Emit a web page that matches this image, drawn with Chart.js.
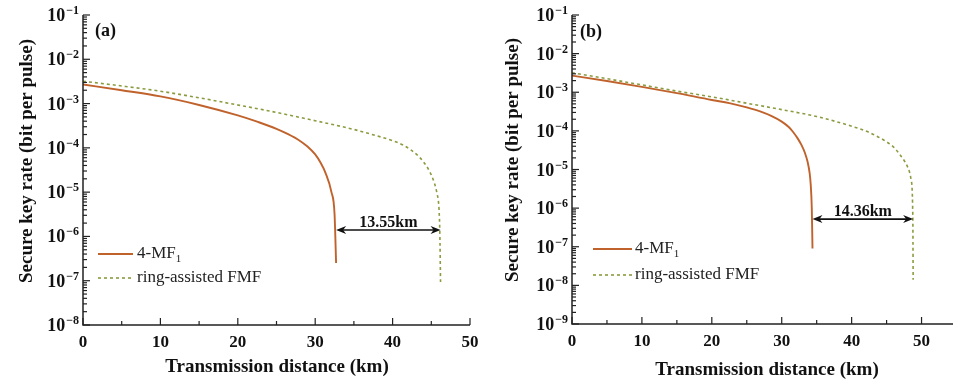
<!DOCTYPE html>
<html>
<head>
<meta charset="utf-8">
<script src="https://cdn.jsdelivr.net/npm/chart.js@4.4.1/dist/chart.umd.min.js"></script>
<style>
  body { margin: 0; background: #fff; width: 953px; height: 387px; overflow: hidden; position: relative; }
  #chartA { position: absolute; left: 0; top: 0; }
  #chartB { position: absolute; left: 480px; top: 0; }
</style>
</head>
<body>
<canvas id="chartA" width="480" height="387"></canvas>
<canvas id="chartB" width="473" height="387"></canvas>
<script>
// panel (a)
const distMfA = [0, 5, 10, 15, 20, 22.5, 25, 26.5, 28, 29, 30, 30.7, 31.3, 32.1, 32.5, 32.7];
const rateMfA = [2.7e-3, 2.0e-3, 1.45e-3, 9.3e-4, 5.4e-4, 3.9e-4, 2.7e-4, 2.04e-4, 1.45e-4, 1.07e-4, 7.1e-5, 4.6e-5, 2.8e-5, 1.0e-5, 3.2e-6, 2.5e-7];
const distRingA = [0, 5, 10, 15, 20, 25, 30, 35, 38, 40, 41.5, 43.1, 44, 44.8, 45.3, 45.7, 46.0, 46.1, 46.2];
const rateRingA = [3.2e-3, 2.5e-3, 1.9e-3, 1.35e-3, 9.3e-4, 6.3e-4, 4.1e-4, 2.6e-4, 1.86e-4, 1.45e-4, 1.12e-4, 7.1e-5, 4.8e-5, 2.9e-5, 1.8e-5, 1.0e-5, 4e-6, 1.26e-6, 8e-8];
const gapA = [32.7, 46.2];
const gapRateA = 1.4e-6;
const gapTextA = '13.55km';

// panel (b)
const distMfB = [0, 5, 10, 15, 20, 22.5, 25, 27, 28.5, 30, 31, 31.6, 32.3, 32.8, 33.3, 33.7, 34.0, 34.15, 34.3, 34.35, 34.4];
const rateMfB = [2.7e-3, 1.95e-3, 1.38e-3, 9.5e-4, 6.3e-4, 5.25e-4, 4.07e-4, 3.16e-4, 2.45e-4, 1.74e-4, 1.26e-4, 9.5e-5, 6.3e-5, 4.4e-5, 2.75e-5, 1.58e-5, 7.9e-6, 4e-6, 1e-6, 3.2e-7, 9e-8];
const distRingB = [0, 5, 10, 15, 20, 25, 30, 35, 40, 42.5, 45, 46, 47, 48, 48.5, 48.75, 48.8];
const rateRingB = [3.2e-3, 2.24e-3, 1.55e-3, 1.07e-3, 7.6e-4, 5.2e-4, 3.55e-4, 2.35e-4, 1.32e-4, 9.1e-5, 5.2e-5, 3.8e-5, 2.3e-5, 1.17e-5, 5.5e-6, 6.3e-7, 1.4e-8];
const gapB = [34.4, 48.8];
const gapRateB = 5.2e-7;
const gapTextB = '14.36km';

const seriesNames = ['4-MF', 'ring-assisted FMF'];
const xTicks = [0, 10, 20, 30, 40, 50];

const serif = '"Liberation Serif", "Times New Roman", serif';
const orange = '#c0622c';
const green = '#8a9c40';

function pts(xs, ys) {
  return xs.map((v, i) => ({ x: v, y: ys[i] }));
}

// axes, tick labels with superscripts, legend, arrow
const frame = {
  id: 'frame',
  afterDatasetsDraw(chart, args, o) {
    const { ctx, chartArea: a, scales: { x, y } } = chart;
    ctx.save();
    ctx.strokeStyle = '#222';
    ctx.fillStyle = '#111';
    ctx.lineWidth = 1.5;
    ctx.beginPath();
    ctx.moveTo(a.left, a.top);
    ctx.lineTo(a.left, a.bottom);
    ctx.lineTo(a.right, a.bottom);
    ctx.stroke();

    // y ticks (inside)
    ctx.lineWidth = 1.2;
    for (let e = o.minExp; e <= o.maxExp; e++) {
      const py = y.getPixelForValue(Math.pow(10, e));
      ctx.beginPath();
      ctx.moveTo(a.left, py);
      ctx.lineTo(a.left + 7, py);
      ctx.stroke();
      if (e < o.maxExp) {
        for (let k = 2; k <= 9; k++) {
          const pm = y.getPixelForValue(k * Math.pow(10, e));
          ctx.beginPath();
          ctx.moveTo(a.left, pm);
          ctx.lineTo(a.left + 4, pm);
          ctx.stroke();
        }
      }
      // label 10^e
      ctx.font = 'bold 18px ' + serif;
      const w10 = ctx.measureText('10').width;
      ctx.font = 'bold 12px ' + serif;
      const sup = '\u2212' + Math.abs(e);
      const ws = ctx.measureText(sup).width;
      const lx = a.left - 5 - w10 - ws;
      ctx.textAlign = 'left';
      ctx.textBaseline = 'alphabetic';
      ctx.font = 'bold 18px ' + serif;
      ctx.fillText('10', lx, py + 6);
      ctx.font = 'bold 12px ' + serif;
      ctx.fillText(sup, lx + w10 + 1, py - 1);
    }

    // x ticks (inside)
    for (let v = 0; v <= x.max; v += 5) {
      const px = x.getPixelForValue(v);
      const len = v % 10 === 0 ? 7 : 4;
      ctx.beginPath();
      ctx.moveTo(px, a.bottom);
      ctx.lineTo(px, a.bottom - len);
      ctx.stroke();
    }
    ctx.font = 'bold 17px ' + serif;
    ctx.textAlign = 'center';
    ctx.textBaseline = 'middle';
    xTicks.forEach(v => {
      if (v <= x.max) ctx.fillText(String(v), x.getPixelForValue(v), a.bottom + 18);
    });

    // axis titles
    ctx.font = 'bold 19px ' + serif;
    ctx.fillText('Transmission distance (km)', o.xTitle[0], o.xTitle[1]);
    ctx.save();
    ctx.translate(o.yTitle[0], o.yTitle[1]);
    ctx.rotate(-Math.PI / 2);
    ctx.fillText('Secure key rate (bit per pulse)', 0, 0);
    ctx.restore();

    // panel label
    ctx.font = 'bold 18px ' + serif;
    ctx.textAlign = 'left';
    ctx.fillText(o.panel, o.panelPos[0], o.panelPos[1]);

    // legend
    const L = o.legend;
    ctx.lineWidth = 1.8;
    ctx.strokeStyle = orange;
    ctx.beginPath();
    ctx.moveTo(L.x0, L.y1);
    ctx.lineTo(L.x1, L.y1);
    ctx.stroke();
    ctx.strokeStyle = green;
    ctx.lineWidth = 1.6;
    ctx.setLineDash([3, 3]);
    ctx.beginPath();
    ctx.moveTo(L.x0, L.y2);
    ctx.lineTo(L.x1, L.y2);
    ctx.stroke();
    ctx.setLineDash([]);
    ctx.fillStyle = '#222';
    ctx.font = '17px ' + serif;
    ctx.textBaseline = 'middle';
    ctx.fillText(seriesNames[0], L.tx, L.y1);
    const wm = ctx.measureText(seriesNames[0]).width;
    ctx.font = '11px ' + serif;
    ctx.fillText('1', L.tx + wm, L.y1 + 5);
    ctx.font = '17px ' + serif;
    ctx.fillText(seriesNames[1], L.tx, L.y2);

    // gap arrow
    const g = o.gap;
    const ax1 = x.getPixelForValue(g.range[0]);
    const ax2 = x.getPixelForValue(g.range[1]);
    const ay = y.getPixelForValue(g.rate);
    ctx.strokeStyle = '#111';
    ctx.fillStyle = '#111';
    ctx.lineWidth = 1.6;
    ctx.beginPath();
    ctx.moveTo(ax1 + 4, ay);
    ctx.lineTo(ax2 - 4, ay);
    ctx.stroke();
    [[ax1, 1], [ax2, -1]].forEach(([px, d]) => {
      ctx.beginPath();
      ctx.moveTo(px, ay);
      ctx.lineTo(px + d * 10, ay - 4);
      ctx.lineTo(px + d * 7, ay);
      ctx.lineTo(px + d * 10, ay + 4);
      ctx.closePath();
      ctx.fill();
    });
    ctx.font = 'bold 16px ' + serif;
    ctx.textAlign = 'center';
    ctx.textBaseline = 'alphabetic';
    ctx.fillText(g.text, (ax1 + ax2) / 2, ay - 3);
    ctx.restore();
  }
};

function makeChart(id, mf, ring, opt) {
  return new Chart(document.getElementById(id), {
    type: 'line',
    data: {
      datasets: [{
        label: seriesNames[0],
        data: mf,
        borderColor: orange,
        borderWidth: 1.9,
        pointRadius: 0,
        cubicInterpolationMode: 'monotone'
      }, {
        label: seriesNames[1],
        data: ring,
        borderColor: green,
        borderWidth: 1.6,
        borderDash: [3, 3],
        pointRadius: 0,
        cubicInterpolationMode: 'monotone'
      }]
    },
    options: {
      responsive: false,
      animation: false,
      layout: { padding: opt.padding },
      plugins: {
        legend: { display: false },
        tooltip: { enabled: false },
        frame: opt.frame
      },
      scales: {
        x: { type: 'linear', min: 0, max: opt.xMax, display: false },
        y: { type: 'logarithmic', min: Math.pow(10, opt.frame.minExp), max: Math.pow(10, opt.frame.maxExp), display: false }
      }
    },
    plugins: [frame]
  });
}

makeChart('chartA', pts(distMfA, rateMfA), pts(distRingA, rateRingA), {
  xMax: 50,
  padding: { left: 83, right: 10, top: 15, bottom: 62 },
  frame: {
    minExp: -8, maxExp: -1, panel: '(a)', panelPos: [95, 31],
    xTitle: [277, 367], yTitle: [27, 161],
    legend: { x0: 98, x1: 133, tx: 137, y1: 254, y2: 278 },
    gap: { range: gapA, rate: gapRateA, text: gapTextA }
  }
});

makeChart('chartB', pts(distMfB, rateMfB), pts(distRingB, rateRingB), {
  xMax: 54.5,
  padding: { left: 92, right: 0, top: 15, bottom: 63 },
  frame: {
    minExp: -9, maxExp: -1, panel: '(b)', panelPos: [100, 32],
    xTitle: [287, 370], yTitle: [33, 160],
    legend: { x0: 113, x1: 152, tx: 155, y1: 249, y2: 275 },
    gap: { range: gapB, rate: gapRateB, text: gapTextB }
  }
});
</script>
</body>
</html>
